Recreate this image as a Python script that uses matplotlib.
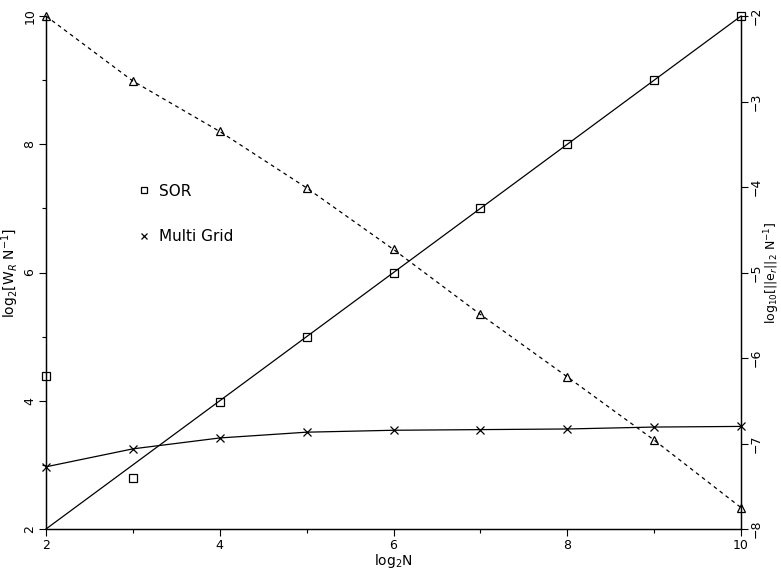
import matplotlib.pyplot as plt
from matplotlib.lines import Line2D

plt.rcParams['font.family'] = ['DejaVu Sans']
plt.rcParams['mathtext.fontset'] = 'dejavusans'

# log2 N
log2_n = [2, 3, 4, 5, 6, 7, 8, 9, 10]

# work per unknown, log2 scale (left axis)
sor_work = [4.39, 2.8, 3.98, 5.0, 6.0, 7.0, 8.0, 9.0, 10.0]
mg_work = [2.97, 3.25, 3.42, 3.51, 3.54, 3.55, 3.56, 3.59, 3.6]

# fitted SOR line
sor_fit_x = [2, 10]
sor_fit_y = [2, 10]

# error norm, log10 scale (right axis)
err = [-2.0, -2.76, -3.35, -4.01, -4.73, -5.49, -6.22, -6.96, -7.75]

fig = plt.figure(figsize=(7.81, 5.74), dpi=100)
ax = fig.add_axes([0.0589, 0.0784, 0.8899, 0.8936])
ax2 = ax.twinx()

lw = 0.9
ax.plot(sor_fit_x, sor_fit_y, color='black', lw=lw, clip_on=False)
ax.plot(log2_n, sor_work, ls='none', marker='s', ms=6, mfc='none', mec='black',
        mew=0.9, clip_on=False)
ax.plot(log2_n, mg_work, color='black', lw=lw, marker='x', ms=6, mew=0.9, clip_on=False)
ax2.plot(log2_n, err, color='black', lw=lw, ls=(0, (3, 3)), marker='^', ms=6,
         mfc='none', mec='black', mew=0.9, clip_on=False)

ax.set_xlim(2, 10)
ax.set_ylim(2, 10)
ax2.set_ylim(-8, -2)

ax.set_xticks([2, 4, 6, 8, 10])
ax.set_xticks([3, 5, 7, 9], minor=True)
ax.set_yticks([2, 4, 6, 8, 10])
ax.set_yticks([3, 5, 7, 9], minor=True)
ax2.set_yticks([-8, -7, -6, -5, -4, -3, -2])
ax2.set_yticklabels(['\u22128', '\u22127', '\u22126', '\u22125', '\u22124', '\u22123', '\u22122'])

for a in (ax, ax2):
    a.spines['top'].set_visible(False)
    for s in a.spines.values():
        s.set_linewidth(0.9)

ax.tick_params(axis='both', which='major', length=5, width=0.8, labelsize=9,
               direction='out', pad=2)
ax.tick_params(axis='both', which='minor', length=3, width=0.8, direction='out')
ax.tick_params(axis='y', labelrotation=90)
ax2.tick_params(axis='y', which='major', length=5, width=0.8, labelsize=9,
                direction='out', labelrotation=90, pad=1)
for t in ax.get_yticklabels():
    t.set_va('center')
for t in ax2.get_yticklabels():
    t.set_va('center')

ax.set_xlabel('log$_2$N', fontsize=10, labelpad=0)
ax.set_ylabel('log$_2$[W$_R$ N$^{-1}$]', fontsize=10, labelpad=2)
ax2.set_ylabel('log$_{10}$[||e$_r$||$_2$ N$^{-1}$]', fontsize=9, rotation=90, labelpad=0)

handles = [
    Line2D([], [], ls='none', marker='s', ms=5, mfc='none', mec='black', mew=0.9),
    Line2D([], [], ls='none', marker='x', ms=5, mec='black', mew=0.9),
]
ax.legend(handles, ['SOR', 'Multi Grid'], loc='upper left', bbox_to_anchor=(0.11, 0.70),
          frameon=False, fontsize=11, labelspacing=2.0, handlelength=1, handletextpad=0.5)

fig.savefig('out.png', dpi=100)
